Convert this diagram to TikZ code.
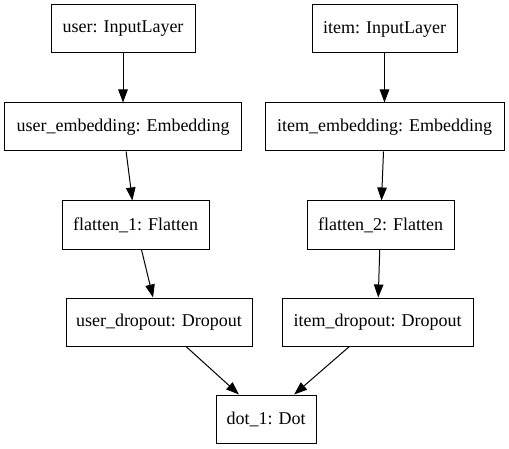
\documentclass[tikz,border=0pt]{standalone}
\usepackage{fontspec}
\setmainfont{Liberation Serif}
\usetikzlibrary{arrows.meta}
\begin{document}
\begin{tikzpicture}[x=1bp, y=-1bp,
    layer/.style={draw, black, line width=1bp, rectangle, minimum height=48bp,
        inner xsep=6bp, font=\fontsize{18bp}{21bp}\selectfont},
    link/.style={black, line width=1bp, -{Triangle[length=13bp, width=9.5bp]}}]
        \useasboundingbox (0,0) rectangle (509,449);
        \node[layer, minimum width=144bp] (user) at (123,29) {user: InputLayer};
        \node[layer, minimum width=236bp] (userEmb) at (123,127) {user\_embedding: Embedding};
        \node[layer, minimum width=147bp] (flatA) at (135.5,225) {flatten\_1: Flatten};
        \node[layer, minimum width=186bp] (userDrop) at (159,322) {user\_dropout: Dropout};
        \node[layer, minimum width=145bp] (item) at (384.5,29) {item: InputLayer};
        \node[layer, minimum width=239bp] (itemEmb) at (384.5,127) {item\_embedding: Embedding};
        \node[layer, minimum width=147bp] (flatB) at (380.5,225) {flatten\_2: Flatten};
        \node[layer, minimum width=191bp] (itemDrop) at (377.5,322) {item\_dropout: Dropout};
        \node[layer, minimum width=100bp] (dot) at (266,419) {dot\_1: Dot};
        \draw[link] (user) -- (userEmb);
        \draw[link] (userEmb) -- (flatA);
        \draw[link] (flatA) -- (userDrop);
        \draw[link] (userDrop) -- (dot);
        \draw[link] (item) -- (itemEmb);
        \draw[link] (itemEmb) -- (flatB);
        \draw[link] (flatB) -- (itemDrop);
        \draw[link] (itemDrop) -- (dot);
    \end{tikzpicture}
\end{document}
